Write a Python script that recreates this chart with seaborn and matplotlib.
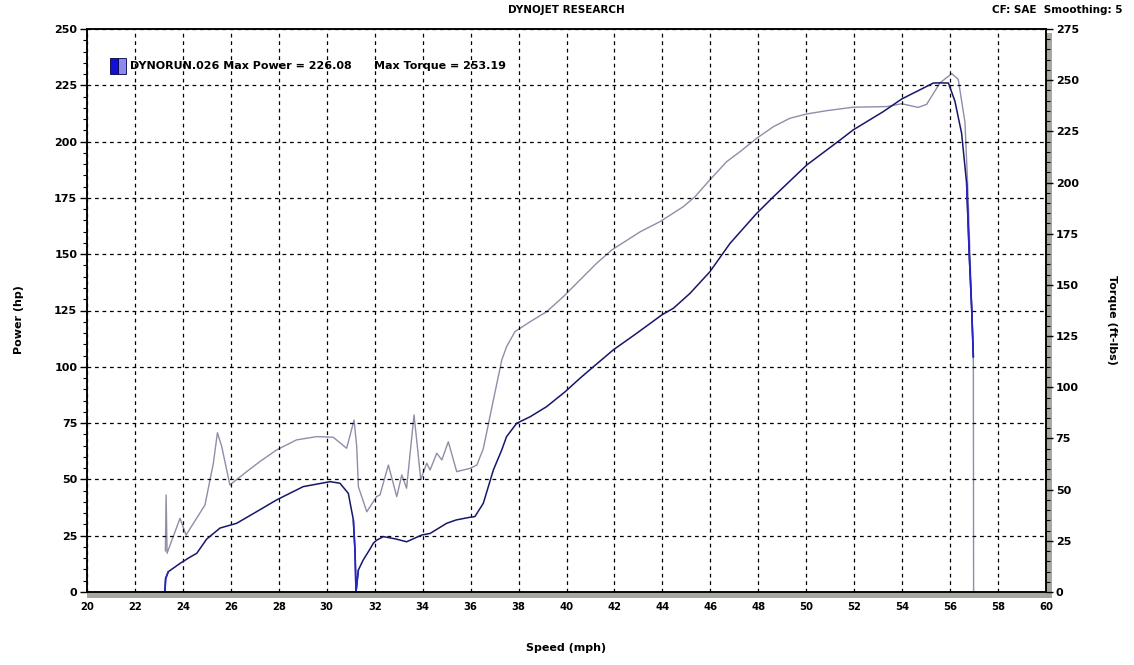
import matplotlib
matplotlib.use("Agg")
import matplotlib.pyplot as plt
from matplotlib.patches import Rectangle
from matplotlib.ticker import MultipleLocator
import seaborn as sns
import pandas as pd

# ---- data ----
power_speed = [23.25, 23.28, 23.39, 23.88, 24.3, 24.58, 24.99, 25.55, 26.24, 27.08, 27.91, 29.02,
               30.14, 30.55, 30.9, 31.11, 31.18, 31.22, 31.28, 31.32, 31.52, 31.8, 31.94, 32.08,
               32.36, 32.9, 33.33, 33.96, 34.31, 35.0, 35.4, 35.98, 36.18, 36.53, 36.95, 37.3,
               37.5, 37.92, 38.48, 39.17, 39.94, 40.56, 41.12, 41.95, 42.93, 43.97, 44.46, 45.15,
               45.98, 46.82, 47.93, 48.63, 50.02, 51.41, 51.96, 53.21, 53.98, 55.3, 55.58, 55.93,
               56.2, 56.48, 56.69, 56.8, 56.9, 56.97]
power_hp = [0, 6, 9, 12.7, 15.5, 17.2, 23.5, 28.4, 30.5, 35.7, 40.9, 46.8,
            49.0, 48.3, 43.8, 32.0, 18.0, 0, 6, 9.8, 14.2, 19.0, 21.6, 23.0,
            24.6, 23.5, 22.3, 25.3, 26.0, 30.5, 32.0, 33.2, 33.5, 39.4, 54.2, 63.1,
            69.0, 74.9, 77.8, 82.3, 88.9, 94.9, 100.0, 107.5, 114.9, 123.0, 126.0, 132.6,
            142.2, 154.8, 168.1, 175.5, 189.6, 200.7, 205.2, 213.3, 218.9, 226.0, 226.08, 226.0,
            218.0, 203.7, 181.4, 149.6, 125.8, 104.3]

torque_speed = [23.27, 23.30, 23.34, 23.5, 23.88, 24.13, 24.92, 25.27, 25.44, 25.62, 25.96, 26.66,
                27.21, 27.91, 28.74, 29.58, 30.27, 30.83, 31.14, 31.25, 31.32, 31.67, 32.08, 32.22,
                32.57, 32.92, 33.13, 33.33, 33.64, 33.78, 33.92, 34.17, 34.31, 34.59, 34.8, 35.07,
                35.42, 35.98, 36.26, 36.53, 36.95, 37.3, 37.5, 37.85, 38.48, 39.17, 39.87, 40.56,
                41.26, 41.88, 43.08, 43.9, 44.87, 45.36, 45.98, 46.68, 47.24, 47.93, 48.63, 49.32,
                50.02, 50.85, 51.96, 53.36, 53.98, 54.67, 55.02, 55.58, 56.07, 56.34, 56.62, 56.73,
                56.83, 56.93, 56.97, 56.98]
torque_ftlb = [20, 47.4, 18.9, 24, 36, 27.8, 42.5, 62.9, 77.8, 71, 52.3, 58.8,
               63.7, 69.4, 74.3, 75.9, 75.6, 70.2, 84, 71, 51.4, 39.2, 46.6, 47.4,
               62, 46.6, 57.2, 50.7, 86.5, 71, 55, 62.9, 59.6, 67.8, 64.5, 73.4,
               58.8, 60.4, 62, 70, 93.8, 113.3, 119.8, 127.2, 132, 136.9, 144.3, 152.4,
               160.6, 167, 176, 180.9, 188.2, 193.1, 201.3, 210.2, 215.1, 221.6, 227.3, 231.4,
               233.5, 235.1, 236.8, 237.1, 238.5, 236.7, 238.2, 248.7, 253.19, 250.4, 229.4, 199.6,
               164.6, 129.6, 112, 0]

x_ticks = list(range(20, 61, 2))
power_ticks = list(range(0, 251, 25))
torque_ticks = list(range(0, 276, 25))
run_name = "DYNORUN.026"
max_power = 226.08
max_torque = 253.19

# ---- style ----
sns.set_style("white")
plt.rcParams['font.family'] = ['DejaVu Sans']
plt.rcParams['text.color'] = 'black'
plt.rcParams['xtick.color'] = 'black'
plt.rcParams['ytick.color'] = 'black'
plt.rcParams['axes.labelcolor'] = 'black'

W, H = 1134, 665
fig = plt.figure(figsize=(W / 100, H / 100), dpi=100)
fig.patch.set_facecolor("white")

L, R, T, B = 87, 1046, 29, 592
ax = fig.add_axes([L / W, 1 - B / H, (R - L) / W, (B - T) / H])

# gray 3D strips bottom and right
strip = "#a8a8a0"
fig.patches.append(Rectangle((L / W, 1 - (B + 6) / H), (R + 6 - L) / W, 6 / H,
                             transform=fig.transFigure, facecolor=strip, edgecolor="none", zorder=-1))
fig.patches.append(Rectangle((R / W, 1 - (B + 6) / H), 6 / W, (B + 6 - T - 4) / H,
                             transform=fig.transFigure, facecolor=strip, edgecolor="none", zorder=-1))

dfp = pd.DataFrame({"speed": power_speed, "power": power_hp})
dft = pd.DataFrame({"speed": torque_speed, "torque": torque_ftlb})

ax2 = ax.twinx()
sns.lineplot(data=dft, x="speed", y="torque", ax=ax2, sort=False, estimator=None,
             color="#8e8ea8", linewidth=1.0)
sns.lineplot(data=dfp, x="speed", y="power", ax=ax, sort=False, estimator=None,
             color="#16166a", linewidth=1.1)
# steep drop segments render brighter blue in the original
for lo, hi in [(0, 3), (15, 20), (62, 66)]:
    sns.lineplot(data=dfp.iloc[lo:hi], x="speed", y="power", ax=ax, sort=False,
                 estimator=None, color="#2424c8", linewidth=1.2)
ax.set_zorder(ax2.get_zorder() + 1)
ax.patch.set_visible(False)
ax2.patch.set_visible(True)
ax2.patch.set_facecolor("white")

ax.set_xlim(20, 60)
ax.set_ylim(0, 250)
ax2.set_ylim(0, 275)
ax.set_xticks(x_ticks)
ax.set_yticks(power_ticks)
ax2.set_yticks(torque_ticks)
ax.xaxis.set_minor_locator(MultipleLocator(0.5))
ax.yaxis.set_minor_locator(MultipleLocator(5))
ax2.yaxis.set_minor_locator(MultipleLocator(5))

ax.grid(True, which="major", color="black", linestyle=(0, (3, 3)), linewidth=0.9)
ax2.grid(False)

for a in (ax, ax2):
    for s in a.spines.values():
        s.set_color("black")
        s.set_linewidth(1.1)
    a.set_xlabel("")
    a.set_ylabel("")

ax.tick_params(axis="both", which="major", direction="out", length=5, width=1,
               color="black", labelcolor="black", labelsize=8, pad=2)
ax.tick_params(axis="both", which="minor", direction="out", length=3, width=0.8, color="black")
ax2.tick_params(axis="y", which="major", direction="out", length=5, width=1,
                color="black", labelcolor="black", labelsize=8, pad=2)
ax2.tick_params(axis="y", which="minor", direction="out", length=3, width=0.8, color="black")
for lab in ax.get_xticklabels() + ax.get_yticklabels() + ax2.get_yticklabels():
    lab.set_fontweight("bold")
for lab in ax.get_xticklabels():
    lab.set_fontstretch("condensed")

# legend
lx, ly = 110, 58
fig.patches.append(Rectangle((lx / W, 1 - (ly + 16) / H), 8 / W, 16 / H, transform=fig.transFigure,
                             facecolor="#1010d8", edgecolor="#000040", linewidth=0.6, zorder=5))
fig.patches.append(Rectangle(((lx + 8) / W, 1 - (ly + 16) / H), 8 / W, 16 / H, transform=fig.transFigure,
                             facecolor="#8a8af0", edgecolor="#000040", linewidth=0.6, zorder=5))
fig.text(130 / W, 1 - 66 / H, f"{run_name} Max Power = {max_power:.2f}", fontsize=8,
         fontweight="bold", va="center", ha="left", color="black")
fig.text(374 / W, 1 - 66 / H, f"Max Torque = {max_torque:.2f}", fontsize=8,
         fontweight="bold", va="center", ha="left", color="black")

# header & axis labels
fig.text(566 / W, 1 - 10 / H, "DYNOJET RESEARCH", fontsize=7.5, fontweight="bold",
         ha="center", va="center", color="black")
fig.text(1122 / W, 1 - 10 / H, "CF: SAE  Smoothing: 5", fontsize=7.5, fontweight="bold",
         ha="right", va="center", color="black")
fig.text(19 / W, 1 - 320 / H, "Power (hp)", fontsize=8, fontweight="bold", rotation=90,
         ha="center", va="center", color="black")
fig.text(1112 / W, 1 - 320 / H, "Torque (ft-lbs)", fontsize=8, fontweight="bold", rotation=-90,
         ha="center", va="center", color="black")
fig.text(566 / W, 1 - 648 / H, "Speed (mph)", fontsize=8, fontweight="bold",
         ha="center", va="center", color="black")

fig.savefig("out.png", dpi=100, facecolor="white")
